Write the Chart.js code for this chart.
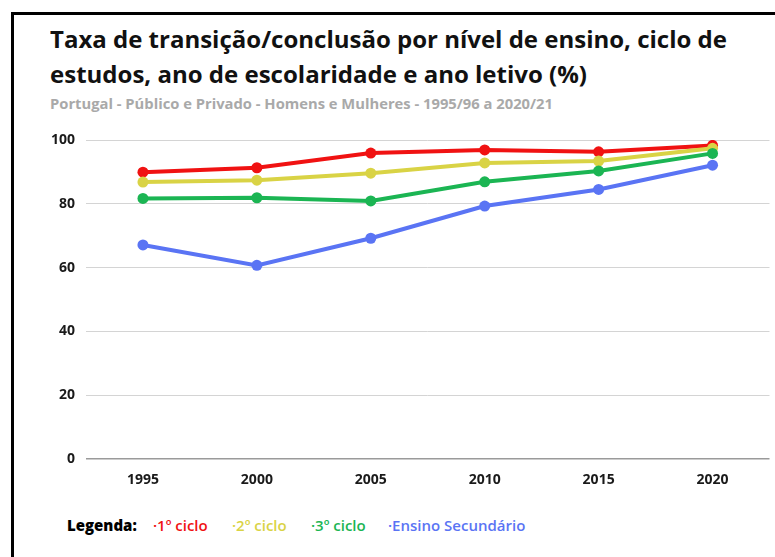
<!DOCTYPE html>
<html><head><meta charset="utf-8">
<script src="https://cdn.jsdelivr.net/npm/chart.js@4.4.1/dist/chart.umd.min.js"></script>
<style>
html,body{margin:0;padding:0;background:#fff;}
body{width:775px;height:557px;position:relative;overflow:hidden;font-family:"Open Sans",sans-serif;}
#frame{position:absolute;left:11px;top:12px;width:820px;height:620px;border-left:3px solid #000;border-top:3px solid #000;}
.fit{position:absolute;white-space:nowrap;transform-origin:0 0;}
#t1,#t2{font-weight:700;font-size:24px;line-height:30px;color:#111;}
#t1{left:50px;top:24px;}
#t2{left:50px;top:59px;}
#sub{left:50px;top:94px;font-weight:700;font-size:15px;line-height:18px;color:#a9a9a9;}
#leg{position:absolute;left:67px;top:514px;font-size:15px;line-height:22px;white-space:nowrap;}
#leg span{position:absolute;top:0;font-weight:600;}
#chart{position:absolute;left:0;top:0;}
</style></head>
<body>
<div id="frame"></div>
<div id="t1" class="fit" data-w="677">Taxa de transição/conclusão por nível de ensino, ciclo de</div>
<div id="t2" class="fit" data-w="537">estudos, ano de escolaridade e ano letivo (%)</div>
<div id="sub" class="fit" data-w="503">Portugal - Público e Privado - Homens e Mulheres - 1995/96 a 2020/21</div>
<div id="leg"></div>
<canvas id="chart" width="775" height="557"></canvas>
<script>
const years = ["1995","2000","2005","2010","2015","2020"];
const yTicks = [0,20,40,60,80,100];
const seriesNames = ["1º ciclo","2º ciclo","3º ciclo","Ensino Secundário"];
const ciclo1 = [89.9, 91.3, 95.9, 96.9, 96.3, 98.3];
const ciclo2 = [86.8, 87.4, 89.6, 92.8, 93.4, 97.4];
const ciclo3 = [81.7, 81.9, 80.9, 86.9, 90.3, 95.8];
const secundario = [67.1, 60.7, 69.2, 79.3, 84.5, 92.1];
const colors = ["#f01212","#d9d345","#1bb553","#5a74f4"];

document.querySelectorAll('.fit').forEach(el=>{
  const w = el.getBoundingClientRect().width;
  el.style.transform = 'scaleX(' + (parseFloat(el.dataset.w)/w) + ')';
});

const leg = document.getElementById('leg');
const legX = [0, 86, 165, 244, 321];
const lab = document.createElement('span');
lab.textContent = 'Legenda:'; lab.style.left='0px'; lab.style.fontWeight='800'; lab.style.color='#000';
leg.appendChild(lab);
seriesNames.forEach((n,i)=>{
  const s=document.createElement('span');
  s.textContent='·'+n; s.style.left=legX[i+1]+'px'; s.style.color=colors[i];
  leg.appendChild(s);
});

const allData=[ciclo1,ciclo2,ciclo3,secundario];
new Chart(document.getElementById('chart'),{
  type:'line',
  data:{labels:years,datasets:allData.map((d,i)=>({
    label:seriesNames[i],data:d,borderColor:colors[i],backgroundColor:colors[i],
    pointBackgroundColor:colors[i],pointBorderWidth:0,pointRadius:5.5,borderWidth:4,
    tension:0,order:3-i
  }))},
  options:{
    responsive:false,animation:false,
    layout:{padding:{top:140,right:3,bottom:68,left:0}},
    plugins:{legend:{display:false},tooltip:{enabled:false}},
    scales:{
      x:{offset:true,grid:{display:false},border:{display:false},
        ticks:{color:'#1a1a1a',font:{family:'Open Sans',size:14,weight:'bold'},padding:5,maxRotation:0},
        afterFit:s=>{s.height=30;}},
      y:{min:0,max:100,
        afterBuildTicks:s=>{s.ticks=yTicks.map(v=>({value:v}));},
        grid:{drawTicks:false,color:c=>c.tick&&c.tick.value===0?'#9a9a9a':'#d4d4d4',lineWidth:c=>c.tick&&c.tick.value===0?1.5:1},
        border:{display:false},
        ticks:{color:'#1a1a1a',font:{family:'Open Sans',size:14,weight:'bold'},padding:11},
        afterFit:s=>{s.width=86;}}
    }
  }
});
</script>
</body></html>
